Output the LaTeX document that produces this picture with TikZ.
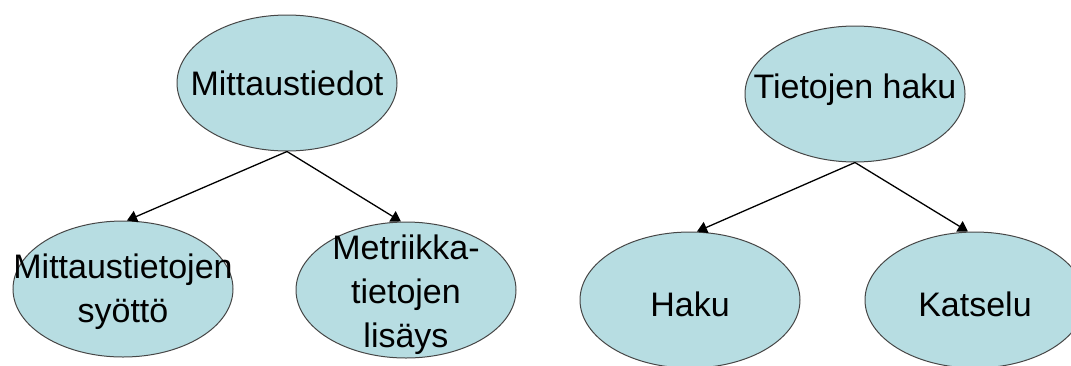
\documentclass[tikz,border=0pt]{standalone}
\usepackage{fontspec}
\setmainfont{Liberation Sans}
\usetikzlibrary{shapes.geometric,arrows.meta}
\definecolor{bubble}{RGB}{183,221,226}
\definecolor{rim}{RGB}{70,70,70}
\begin{document}
\begin{tikzpicture}[x=1pt,y=-1pt,
  ell/.style={ellipse,draw=rim,line width=1pt,fill=bubble,
    minimum width=220pt,minimum height=136pt,inner sep=0pt},
  txt/.style={align=center,inner sep=0pt,
    font=\fontsize{34}{44}\selectfont},
  link/.style={line width=1.3pt,-{Triangle[width=12pt,length=10pt]}}]
\useasboundingbox (0,0) rectangle (1071,365);
\clip (0,0) rectangle (1071,365);

% left tree
\node[ell] (mt) at (287,83) {};
\node[txt] (mt-t) at (mt.center) {Mittaustiedot};
\node[ell] (ms) at (123,289) {};
\node[txt] (ms-t) at ([yshift=-3pt]ms.center) {Mittaustietojen\\syöttö};
\node[ell] (ml) at (406,290) {};
\node[txt] (ml-t) at ([yshift=-5pt]ml.center) {Metriikka-\\tietojen\\lisäys};

% right tree
\node[ell] (th) at (855,94) {};
\node[txt] (th-t) at ([yshift=4pt]th.center) {Tietojen haku};
\node[ell] (hk) at (690,300) {};
\node[txt] (hk-t) at ([yshift=-4pt]hk.center) {Haku};
\node[ell] (ks) at (975,300) {};
\node[txt] (ks-t) at ([yshift=-4pt]ks.center) {Katselu};

% connectors
\draw[link] (mt.south) -- ([xshift=4pt]ms.north);
\draw[link] (mt.south) -- ([xshift=-5pt]ml.north);
\draw[link] (th.south) -- ([xshift=7pt]hk.north);
\draw[link] (th.south) -- ([xshift=-7pt]ks.north);
\end{tikzpicture}
\end{document}
